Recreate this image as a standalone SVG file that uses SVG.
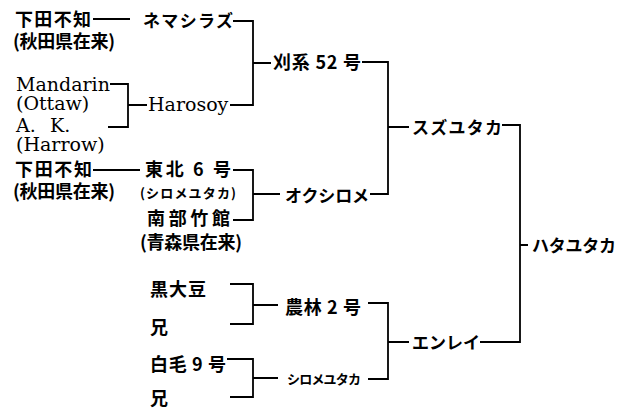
<svg xmlns="http://www.w3.org/2000/svg" width="632" height="412" viewBox="0 0 632 412">
<style>
.j{font-family:"Noto Sans CJK JP","Noto Sans",sans-serif;font-size:18px;font-weight:bold;fill:#000}
.k{font-family:"Noto Sans CJK JP","Noto Sans",sans-serif;font-size:17px;font-weight:bold;fill:#000}
.s{font-family:"Noto Sans CJK JP","Noto Sans",sans-serif;font-size:13px;font-weight:bold;fill:#000}
.e{font-family:"DejaVu Serif","Liberation Serif",serif;font-size:19px;fill:#000}
.c path{fill:none;stroke:#000;stroke-width:1.8}
</style>
<rect width="632" height="412" fill="#fff"/>
<g class="c" id="connectors">
<path d="M93 19H130"/>
<path d="M233 21H253V105H230M253 63H271"/>
<path d="M110 84H128V127H108M128 105H147"/>
<path d="M362 62H388V194H370M388 127H409"/>
<path d="M93 170H140"/>
<path d="M233 170H253V220H233M253 194H280"/>
<path d="M502 125H520V342H480M520 245H528"/>
<path d="M230 284H253V324H230M253 305H278"/>
<path d="M368 303H388V379H368M388 342H409"/>
<path d="M227 359H253V397H230M253 378H278"/>
</g>
<g id="n1"><text class="j"><tspan x="15" y="26" textLength="76">下田不知</tspan><tspan x="13" y="48" textLength="102">(秋田県在来)</tspan></text></g>
<g id="n2"><text class="k" x="143" y="27" textLength="90">ネマシラズ</text></g>
<g id="n3"><text class="e"><tspan x="16" y="91">Mandarin</tspan><tspan x="16" y="110">(Ottaw)</tspan></text></g>
<g id="n4"><text class="e"><tspan x="16" y="132">A.</tspan><tspan x="50" y="132">K.</tspan><tspan x="16" y="151">(Harrow)</tspan></text></g>
<g id="n5"><text class="e" x="148" y="111">Harosoy</text></g>
<g id="n6"><text class="j" x="273" y="69" textLength="88">刈系 52 号</text></g>
<g id="n7"><text class="j"><tspan x="15" y="176" textLength="77">下田不知</tspan><tspan x="13" y="198" textLength="102">(秋田県在来)</tspan></text></g>
<g id="n8"><text class="j"><tspan x="145" y="176" textLength="86">東北 6 号</tspan><tspan class="s" x="140" y="198" textLength="96">(シロメユタカ)</tspan></text></g>
<g id="n9"><text class="j"><tspan x="147" y="225" textLength="83">南部竹館</tspan><tspan x="140" y="249" textLength="102">(青森県在来)</tspan></text></g>
<g id="n10"><text class="k" x="285" y="202" textLength="84">オクシロメ</text></g>
<g id="n11"><text class="k" x="412" y="134" textLength="90">スズユタカ</text></g>
<g id="n12"><text class="j" x="150" y="296" textLength="56">黒大豆</text></g>
<g id="n13"><text class="j" x="150" y="334">兄</text></g>
<g id="n14"><text class="j" x="285" y="314" textLength="76">農林 2 号</text></g>
<g id="n15"><text class="j" x="150" y="371" textLength="76">白毛 9 号</text></g>
<g id="n16"><text class="j" x="150" y="405">兄</text></g>
<g id="n17"><text class="s" x="287" y="384" textLength="74">シロメユタカ</text></g>
<g id="n18"><text class="k" x="412" y="349" textLength="68">エンレイ</text></g>
<g id="n19"><text class="k" x="532" y="252" textLength="84">ハタユタカ</text></g>
</svg>
